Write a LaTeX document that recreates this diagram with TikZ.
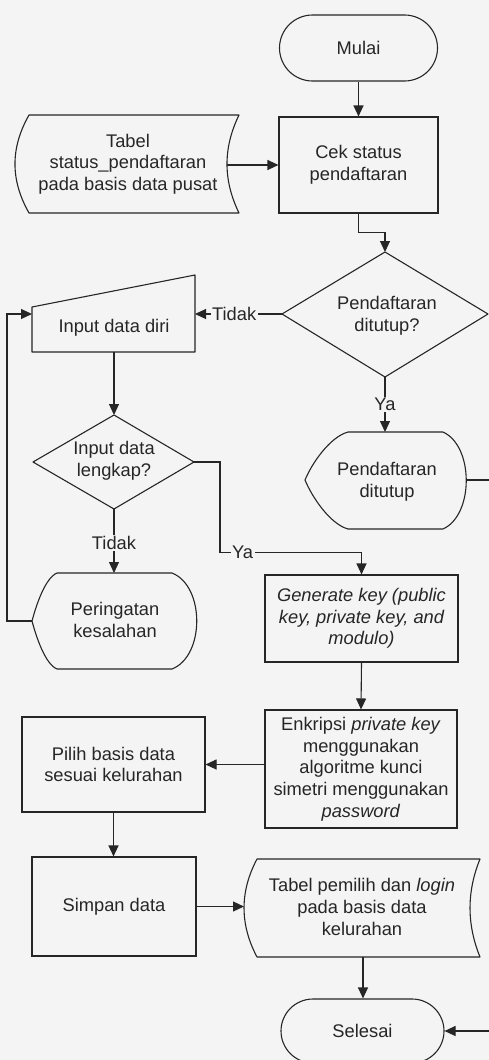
\documentclass[tikz,border=0pt]{standalone}
\usepackage{fontspec}
\setmainfont{Liberation Sans}
\usetikzlibrary{shapes.misc,arrows.meta,calc}
\definecolor{ink}{HTML}{262626}
\definecolor{bg}{HTML}{F4F4F4}
\newcommand{\fcfont}{\fontsize{18.3}{21.7}\selectfont}
\begin{document}
\begin{tikzpicture}[x=1pt,y=-1pt,
  txt/.style={font=\fcfont, align=center, inner sep=0pt, text=ink},
  box/.style={txt, draw=ink, line width=1.1pt, rectangle},
  term/.style={txt, draw=ink, line width=1.1pt, rounded rectangle},
  outline/.style={draw=ink, line width=1.1pt, line join=round},
  conn/.style={draw=ink, line width=1.1pt},
  arr/.style={conn, -{Triangle[length=11pt,width=10pt]}},
  lab/.style={txt, fill=bg, inner sep=1.5pt}]
\clip (0,0) rectangle (489,1060);
\fill[bg] (0,0) rectangle (489,1060);

% ---- terminals and process boxes
\node[term, minimum width=158pt, minimum height=66pt] (mulai) at (358.5,48) {Mulai};
\node[box, minimum width=159pt, minimum height=96pt] (cek) at (358.5,165) {Cek status\\pendaftaran};
\node[box, minimum width=193pt, minimum height=87pt, font=\fcfont\itshape] (gen) at (361.5,618.5) {Generate key (public\\key, private key, and\\modulo)};
\node[box, minimum width=192pt, minimum height=118pt] (enk) at (361,769) {Enkripsi \textit{private key}\\menggunakan\\algoritme kunci\\simetri menggunakan\\\textit{password}};
\node[box, minimum width=183pt, minimum height=95pt] (pilih) at (113.5,764.5) {Pilih basis data\\sesuai kelurahan};
\node[box, minimum width=164pt, minimum height=99pt] (simpan) at (114,906.5) {Simpan data};
\node[term, minimum width=163pt, minimum height=64pt] (selesai) at (362.5,1031) {Selesai};

% ---- stored data: Tabel status_pendaftaran
\draw[outline] (29,115) -- (239,115) .. controls (223,148) and (223,180) .. (239,213)
  -- (29,213) .. controls (10.3,180) and (10.3,148) .. (29,115) -- cycle;
\node[txt] (tstat) at (128,164) {Tabel\\status\_pendaftaran\\pada basis data pusat};
\coordinate (tstatE) at (227,165);

% ---- decision: Pendaftaran ditutup?
\coordinate (d1n) at (385,252);
\coordinate (d1w) at (282,314);
\coordinate (d1e) at (488,314);
\coordinate (d1s) at (385,377);
\draw[outline] (d1n) -- (d1e) -- (d1s) -- (d1w) -- cycle;
\node[txt] (dtutup) at (387,316) {Pendaftaran\\ditutup?};

% ---- manual input: Input data diri
\draw[outline] (32,307) -- (195,275) -- (195,352) -- (32,352) -- cycle;
\node[txt] (input) at (114,328) {Input data diri};
\coordinate (inE) at (195,314);
\coordinate (inW) at (32,314);
\coordinate (inS) at (114,352);

% ---- decision: Input data lengkap?
\coordinate (d2n) at (114,415);
\coordinate (d2w) at (33,462);
\coordinate (d2e) at (194,462);
\coordinate (d2s) at (114,509);
\draw[outline] (d2n) -- (d2e) -- (d2s) -- (d2w) -- cycle;
\node[txt] (lengkap) at (114,461) {Input data\\lengkap?};

% ---- display: Pendaftaran ditutup
\draw[outline] (348,432) -- (443,432) .. controls (474,446) and (474,515) .. (443,529)
  -- (348,529) .. controls (330,524) and (312,497) .. (305,480)
  .. controls (312,463) and (330,437) .. (348,432) -- cycle;
\node[txt] (ditutup) at (387,482) {Pendaftaran\\ditutup};
\coordinate (dispN) at (385,432);
\coordinate (dispE) at (466,480);

% ---- display: Peringatan kesalahan
\draw[outline] (57,573) -- (172,573) .. controls (205,586) and (205,656) .. (172,669)
  -- (57,669) .. controls (45,664) and (36,636) .. (32,621)
  .. controls (36,606) and (45,578) .. (57,573) -- cycle;
\node[txt] (warn) at (115,620) {Peringatan\\kesalahan};
\coordinate (warnN) at (114,573);
\coordinate (warnW) at (32,621);

% ---- stored data: Tabel pemilih
\draw[outline] (257,859) -- (480,859) .. controls (466.7,891.7) and (466.7,924.3) .. (480,957)
  -- (257,957) .. controls (239.7,924.3) and (239.7,891.7) .. (257,859) -- cycle;
\node[txt] (tpem) at (362,907) {Tabel pemilih dan \textit{login}\\pada basis data\\kelurahan};
\coordinate (tpemW) at (244,906.5);
\coordinate (tpemS) at (363,957);

% ---- connectors
\draw[arr] (mulai.south) -- (cek.north);
\draw[arr] (tstatE) -- (tstatE -| cek.west);
\draw[arr] (cek.south) -- ++(0,19) -| (d1n);
\draw[arr] (d1w) -- node[lab, pos=0.55] {Tidak} (inE);
\draw[arr] (d1s) -- node[lab] {Ya} (dispN);
\draw[arr] (inS) -- (d2n);
\draw[arr] (d2e) -- ++(26,0) |- node[lab, pos=0.58] {Ya} ($(gen.north)+(0,-22)$) -- (gen.north);
\draw[arr] (d2s) -- node[lab, pos=0.53] {Tidak} (warnN);
\draw[arr] (warnW) -- ++(-25,0) |- (inW);
\draw[arr] (gen.south) -- (enk.north);
\draw[arr] (pilih.east -| enk.west) -- (pilih.east);
\draw[arr] (pilih.south) -- (pilih.south |- simpan.north);
\draw[arr] (simpan.east) -- (tpemW);
\draw[arr] (tpemS) -- (tpemS |- selesai.north);
\draw[arr] (dispE) -- (500,480) -- (500,1031) -- (selesai.east);
\end{tikzpicture}
\end{document}
